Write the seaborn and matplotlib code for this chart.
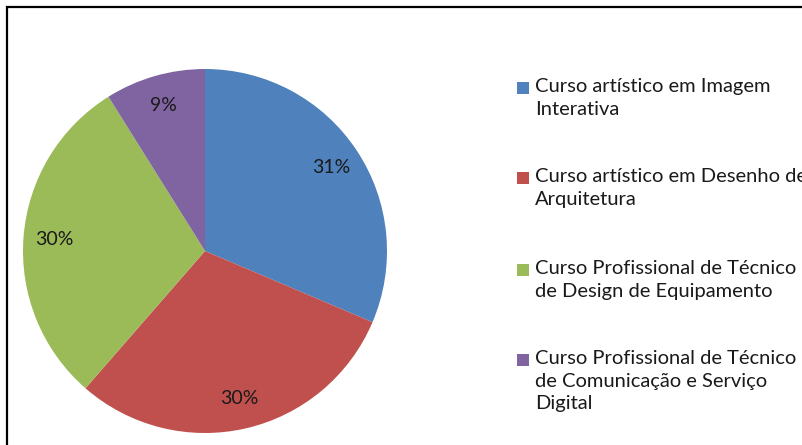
import matplotlib.pyplot as plt
import seaborn as sns
from matplotlib.patches import Rectangle

# data (slice shares, labels shown rounded)
cursos = [
    "Curso artístico em Imagem\nInterativa",
    "Curso artístico em Desenho de\nArquitetura",
    "Curso Profissional de Técnico\nde Design de Equipamento",
    "Curso Profissional de Técnico\nde Comunicação e Serviço\nDigital",
]
percentagens = [31.4, 30.0, 29.7, 8.9]
cores = ["#4F81BD", "#C0504D", "#9BBB59", "#8064A2"]

sns.set_theme(style="white")
plt.rcParams["font.family"] = ["Lato", "DejaVu Sans"]

fig = plt.figure(figsize=(8.03, 4.45), dpi=100)
fig.patch.set_facecolor("white")

W, H = 803, 445
cx, cy, r = 205, 251, 182
ax = fig.add_axes([(cx - r) / W, (H - cy - r) / H, 2 * r / W, 2 * r / H])

wedges, _, autotexts = ax.pie(
    percentagens,
    colors=cores,
    startangle=90,
    counterclock=False,
    autopct="%1.0f%%",
    pctdistance=0.83,
    wedgeprops=dict(linewidth=0),
    textprops=dict(fontsize=14, color="#1a1a1a"),
)
ax.set_xlim(-1, 1)
ax.set_ylim(-1, 1)
ax.set_aspect("equal")
ax.axis("off")

# legend, drawn by hand so the square sits on the first line
centros = [88, 178, 270, 360]
for label, cor, c in zip(cursos, cores, centros):
    fig.add_artist(Rectangle((517 / W, 1 - (c + 6) / H), 12 / W, 12 / H,
                             transform=fig.transFigure, facecolor=cor,
                             edgecolor="none"))
    fig.text(535 / W, 1 - (c - 10) / H, label, fontsize=14.5, color="#1a1a1a",
             va="top", ha="left", linespacing=1.4)

# chart frame (only top and left edges visible)
fig.add_artist(Rectangle((7 / W, -0.1), 1.2, 1.1 - 7 / H,
                         transform=fig.transFigure, fill=False,
                         edgecolor="black", linewidth=1.6))

fig.savefig("out.png", dpi=100, facecolor="white")
